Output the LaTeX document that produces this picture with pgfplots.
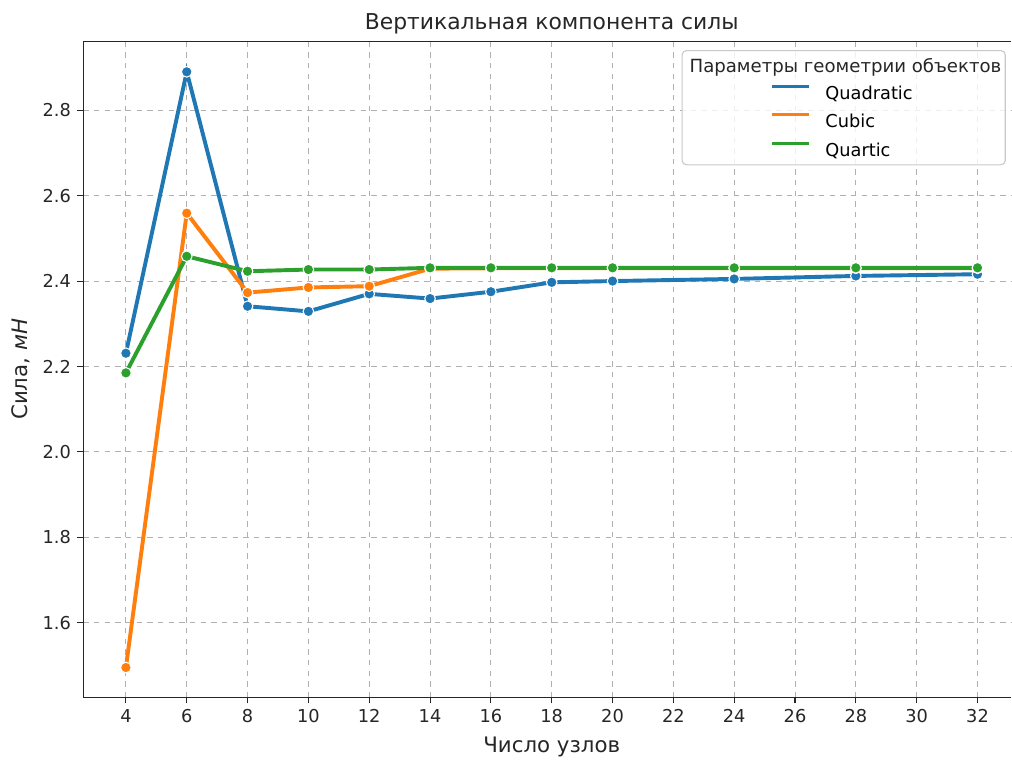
\documentclass[border=0pt]{standalone}
\usepackage{fontspec}
\setmainfont{DejaVu Sans}
\usepackage{pgfplots}
\pgfplotsset{compat=1.18}
\definecolor{cblue}{HTML}{1F77B4}
\definecolor{corange}{HTML}{FF7F0E}
\definecolor{cgreen}{HTML}{2CA02C}
\definecolor{gridc}{HTML}{B0B0B0}
\begin{document}
\begin{tikzpicture}
\path (-46.9pt,-36.2pt) rectangle (522.4pt,392.4pt);
\begin{axis}[
  at={(0pt,0pt)}, anchor=south west,
  scale only axis,
  width=522.4pt, height=369.2pt,
  xmin=2.6, xmax=33.12, ymin=1.4254, ymax=2.9617,
  xtick={4,6,...,32},
  ytick={1.6,1.8,2.0,2.2,2.4,2.6,2.8},
  yticklabel style={/pgf/number format/.cd,fixed,fixed zerofill,precision=1},
  /pgf/number format/assume math mode=true,
  tick label style={font=\fontsize{10}{12}\selectfont, color=black!85},
  xtick pos=bottom, ytick pos=left,
  tick align=outside, major tick length=3.5pt,
  tick style={black!85, line width=0.6pt},
  axis line style={draw=none},
  grid=major,
  major grid style={gridc, dashed, line width=0.5pt},
  clip=false,
  legend style={at={(rel axis cs:0.7395,0.934)}, anchor=north west,
    draw=none, fill=none, inner sep=0pt, row sep=7.9pt, column sep=8.5pt,
    font=\fontsize{10}{12}\selectfont,
    nodes={inner sep=0pt, text height=7.3pt, text depth=0pt}},
  legend cell align=left,
  legend image code/.code={\draw[#1] (0pt,3.65pt) -- (21pt,3.65pt);},
]
\draw[black!85, line width=0.6pt] (rel axis cs:0.9995,1) -- (rel axis cs:0,1) -- (rel axis cs:0,0) -- (rel axis cs:0.9995,0);
\draw[gridc!70, fill=white, fill opacity=0.8, rounded corners=2.5pt, line width=0.6pt]
  (rel axis cs:0.645,0.8116) rectangle (rel axis cs:0.9932,0.9857);
\node[anchor=base, font=\fontsize{10.2}{12}\selectfont, text=black!85] at (rel axis cs:0.8211,0.9522) {Параметры геометрии объектов};

\addplot[forget plot, cblue, line width=2.2pt, mark=*, mark size=3pt, mark options={draw=white, line width=0.6pt, fill=cblue}] coordinates {
(4,2.231) (6,2.890) (8,2.341) (10,2.329) (12,2.370) (14,2.359) (16,2.375) (18,2.397) (20,2.400) (24,2.405) (28,2.412) (32,2.416)};
\addplot[forget plot, corange, line width=2.2pt, mark=*, mark size=3pt, mark options={draw=white, line width=0.6pt, fill=corange}] coordinates {
(4,1.495) (6,2.559) (8,2.373) (10,2.385) (12,2.388) (14,2.429) (16,2.430) (18,2.430) (20,2.430) (24,2.430) (28,2.430) (32,2.430)};
\addplot[forget plot, cgreen, line width=2.2pt, mark=*, mark size=3pt, mark options={draw=white, line width=0.6pt, fill=cgreen}] coordinates {
(4,2.185) (6,2.458) (8,2.423) (10,2.427) (12,2.427) (14,2.431) (16,2.431) (18,2.431) (20,2.431) (24,2.431) (28,2.431) (32,2.431)};

\addlegendimage{cblue, line width=1.6pt}
\addlegendentry{Quadratic}
\addlegendimage{corange, line width=1.6pt}
\addlegendentry{Cubic}
\addlegendimage{cgreen, line width=1.6pt}
\addlegendentry{Quartic}

\node[anchor=base, font=\fontsize{12.3}{14}\selectfont, text=black!85] at (axis cs:18,2.9617) [yshift=6.4pt] {Вертикальная компонента силы};
\node[anchor=base, font=\fontsize{12}{14}\selectfont, text=black!85] at (axis cs:18,1.4254) [yshift=-31.3pt] {Число узлов};
\node[anchor=center, rotate=90, yshift=35.4pt, font=\fontsize{12}{14}\selectfont, text=black!85] at (rel axis cs:0,0.5) {Сила, \textit{мН}};
\end{axis}
\end{tikzpicture}
\end{document}
